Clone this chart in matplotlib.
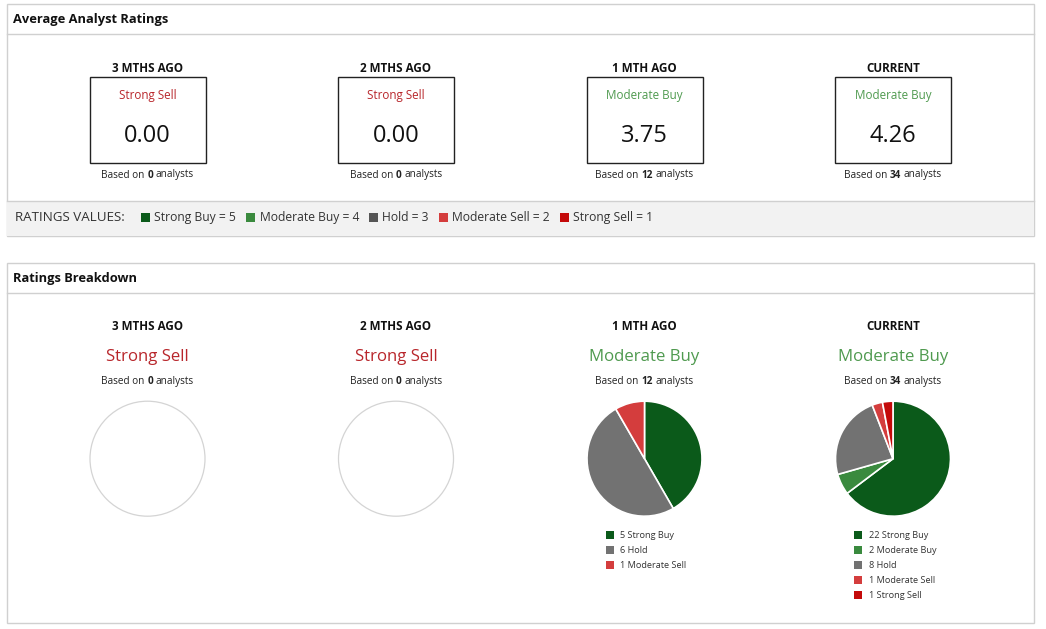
import matplotlib.pyplot as plt
from matplotlib.patches import Rectangle, Circle

plt.rcParams['font.family'] = ['Open Sans', 'DejaVu Sans']

# data
periods = ['3 MTHS AGO', '2 MTHS AGO', '1 MTH AGO', 'CURRENT']
avg_scores = [0.00, 0.00, 3.75, 4.26]
consensus = ['Strong Sell', 'Strong Sell', 'Moderate Buy', 'Moderate Buy']
analyst_counts = [0, 0, 12, 34]

categories = ['Strong Buy', 'Moderate Buy', 'Hold', 'Moderate Sell', 'Strong Sell']
rating_values = [5, 4, 3, 2, 1]
strong_buy = [0, 0, 5, 22]
moderate_buy = [0, 0, 0, 2]
hold = [0, 0, 6, 8]
moderate_sell = [0, 0, 1, 1]
strong_sell = [0, 0, 0, 1]

cat_colors = ['#0b5a1a', '#3a8a3e', '#727272', '#d43d3d', '#c40a0a']
band_colors = ['#0b5a1a', '#3a8a3e', '#555555', '#d43d3d', '#c40a0a']
label_colors = {'Strong Sell': '#b8262b', 'Moderate Buy': '#4f9a4f'}
border = '#d0d0d0'

W, H = 1046, 629
fig = plt.figure(figsize=(W / 100, H / 100), dpi=100)
ax = fig.add_axes([0, 0, 1, 1])
ax.set_xlim(0, W)
ax.set_ylim(H, 0)
ax.axis('off')
renderer = fig.canvas.get_renderer()

col_x = [147.5, 396, 644.5, 893]


def text_width(s, size, weight='normal'):
    t = ax.text(0, 0, s, fontsize=size, fontweight=weight)
    w = t.get_window_extent(renderer).width
    t.remove()
    return w


def runs_centered(x, y, runs, size, color='#222222'):
    # runs: list of (text, weight), joined with single spaces, y = baseline
    sp = text_width('a a', size) - text_width('aa', size)
    widths = [text_width(s, size, w) for s, w in runs]
    total = sum(widths) + sp * (len(runs) - 1)
    xx = x - total / 2
    for (s, w), wd in zip(runs, widths):
        ax.text(xx, y, s, fontsize=size, fontweight=w, ha='left', va='baseline', color=color)
        xx += wd + sp


# panel 1 frame
ax.add_patch(Rectangle((6.5, 3.5), 1027.5, 232.5, fill=False, ec=border, lw=1))
ax.plot([6.5, 1034], [33.5, 33.5], color=border, lw=1)
ax.text(13, 19, 'Average Analyst Ratings', fontsize=9.3, fontweight='bold', va='center', color='#111111')
ax.add_patch(Rectangle((7, 200.5), 1026.5, 35.5, fc='#f2f2f2', ec='none'))
ax.plot([6.5, 1034], [200.5, 200.5], color=border, lw=1)

for i, cx in enumerate(col_x):
    ax.text(cx, 68, periods[i], fontsize=8.4, fontweight='bold', ha='center', va='center', color='#111111')
    ax.add_patch(Rectangle((cx - 58, 76.5), 116, 86, fill=False, ec='#222222', lw=1))
    ax.text(cx, 95.5, consensus[i], fontsize=8.4, ha='center', va='center',
            color=label_colors[consensus[i]])
    ax.text(cx, 136.5, '%.2f' % avg_scores[i], fontsize=17, ha='center', va='center', color='#111111')
    runs_centered(cx, 177.5, [('Based on', 'normal'), (str(analyst_counts[i]), 'bold'),
                              ('analysts', 'normal')], 7.2)

# ratings values band
ax.text(15, 217.5, 'RATINGS VALUES:', fontsize=9.6, va='center', color='#333333')
xx = 141
for name, val, c in zip(categories, rating_values, band_colors):
    ax.add_patch(Rectangle((xx, 212.5), 9, 9, fc=c, ec='none'))
    label = '%s = %d' % (name, val)
    ax.text(xx + 13.5, 221, label, fontsize=8.7, va='baseline', color='#333333')
    xx += 13.5 + text_width(label, 8.7) + 9.8

# panel 2 frame
ax.add_patch(Rectangle((6.5, 262.5), 1027.5, 360, fill=False, ec=border, lw=1))
ax.plot([6.5, 1034], [292.5, 292.5], color=border, lw=1)
ax.text(13, 278.5, 'Ratings Breakdown', fontsize=9.3, fontweight='bold', va='center', color='#111111')

counts_by_cat = [strong_buy, moderate_buy, hold, moderate_sell, strong_sell]
pie_cy, pie_r = 458.7, 57.5

for i, cx in enumerate(col_x):
    ax.text(cx, 327, periods[i], fontsize=8.4, fontweight='bold', ha='center', va='center', color='#111111')
    ax.text(cx, 357, consensus[i], fontsize=12.1, ha='center', va='center',
            color=label_colors[consensus[i]])
    runs_centered(cx, 384, [('Based on', 'normal'), (str(analyst_counts[i]), 'bold'),
                            ('analysts', 'normal')], 7.2)

    pax = fig.add_axes([(cx - pie_r) / W, 1 - (pie_cy + pie_r) / H, 2 * pie_r / W, 2 * pie_r / H])
    pax.set_xlim(-1, 1)
    pax.set_ylim(-1, 1)
    pax.axis('off')
    vals = [c[i] for c in counts_by_cat]
    if sum(vals) == 0:
        pax.add_patch(Circle((0, 0), 1.0, fill=False, ec='#d4d4d4', lw=0.9, clip_on=False))
        continue
    nz = [(v, col, name) for v, col, name in zip(vals, cat_colors, categories) if v > 0]
    pax.pie([v for v, _, _ in nz], colors=[col for _, col, _ in nz], startangle=90,
            counterclock=False, radius=1,
            wedgeprops=dict(edgecolor='white', linewidth=1.2, clip_on=False))
    pax.set_xlim(-1, 1)
    pax.set_ylim(-1, 1)

    ly = 534.5
    for v, col, name in nz:
        ax.add_patch(Rectangle((cx - 39, ly - 4), 8, 8, fc=col, ec='none'))
        ax.text(cx - 24, ly + 3.3, '%d %s' % (v, name), fontsize=6.6, va='baseline', color='#333333')
        ly += 15

fig.savefig('out.png', dpi=100)
